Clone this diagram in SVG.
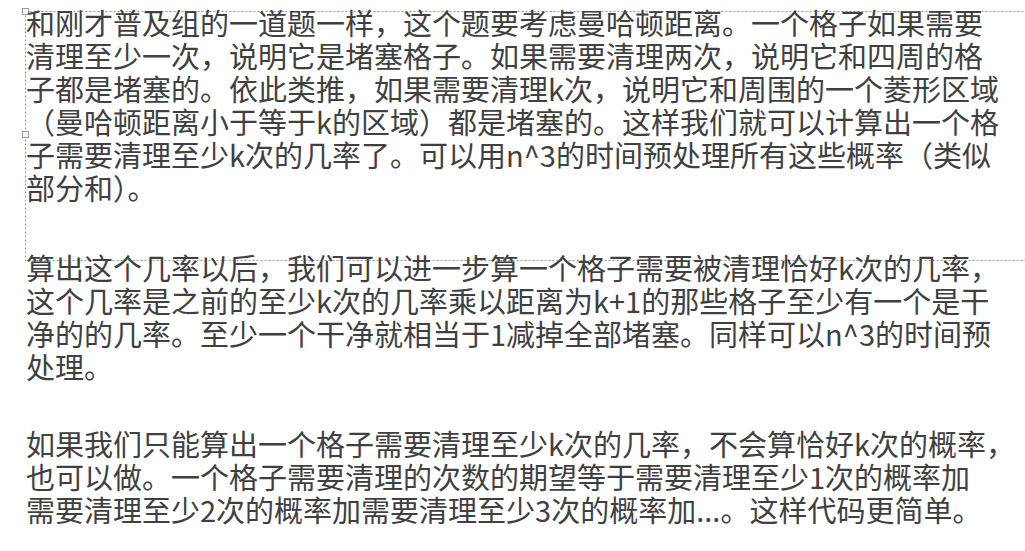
<svg xmlns="http://www.w3.org/2000/svg" width="1025" height="551" viewBox="0 0 1025 551">
<style>
text{font-family:"Microsoft YaHei","Noto Sans CJK SC",sans-serif;font-size:29px;fill:#404040}
.h{fill:#fff;stroke:#999;stroke-width:1}
</style>
<rect width="1025" height="551" fill="#fff"/>
<g id="box">
<rect x="25.5" y="11.5" width="1010" height="249" fill="none" stroke="#999" stroke-dasharray="2,2"/>
<rect class="h" x="22.5" y="8.5" width="6" height="6"/>
<rect class="h" x="22.5" y="131.5" width="6" height="6"/>
</g>
<g id="p1">
<text x="26" y="35">和刚才普及组的一道题一样，这个题要考虑曼哈顿距离。一个格子如果需要</text>
<text x="26" y="68">清理至少一次，说明它是堵塞格子。如果需要清理两次，说明它和四周的格</text>
<text x="26" y="101">子都是堵塞的。依此类推，如果需要清理k次，说明它和周围的一个菱形区域</text>
<text x="26" y="134">（曼哈顿距离小于等于k的区域）都是堵塞的。这样我们就可以计算出一个格</text>
<text x="26" y="167">子需要清理至少k次的几率了。可以用n^3的时间预处理所有这些概率（类似</text>
<text x="26" y="200">部分和）。</text>
</g>
<g id="p2">
<text x="26" y="280">算出这个几率以后，我们可以进一步算一个格子需要被清理恰好k次的几率，</text>
<text x="26" y="313">这个几率是之前的至少k次的几率乘以距离为k+1的那些格子至少有一个是干</text>
<text x="26" y="346">净的的几率。至少一个干净就相当于1减掉全部堵塞。同样可以n^3的时间预</text>
<text x="26" y="379">处理。</text>
</g>
<g id="p3">
<text x="26" y="456">如果我们只能算出一个格子需要清理至少k次的几率，不会算恰好k次的概率，</text>
<text x="26" y="489">也可以做。一个格子需要清理的次数的期望等于需要清理至少1次的概率加</text>
<text x="26" y="522">需要清理至少2次的概率加需要清理至少3次的概率加...。这样代码更简单。</text>
</g>
</svg>
